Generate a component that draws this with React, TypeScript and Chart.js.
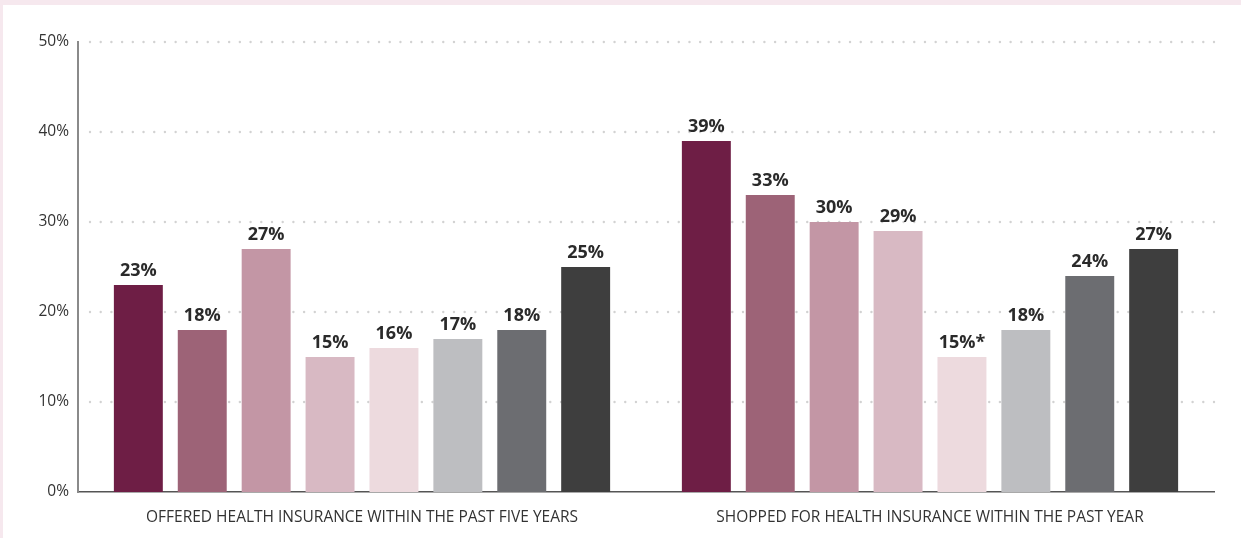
import React, { useEffect, useRef } from "react";
import { Chart, registerables } from "chart.js";

Chart.register(...registerables);

const categories = [
  "OFFERED HEALTH INSURANCE WITHIN THE PAST FIVE YEARS",
  "SHOPPED FOR HEALTH INSURANCE WITHIN THE PAST YEAR",
];
const s1 = [23, 39];
const s2 = [18, 33];
const s3 = [27, 30];
const s4 = [15, 29];
const s5 = [16, 15];
const s6 = [17, 18];
const s7 = [18, 24];
const s8 = [25, 27];
const series = [s1, s2, s3, s4, s5, s6, s7, s8];
const labelSuffixes = [
  ["", ""],
  ["", ""],
  ["", ""],
  ["", ""],
  ["", "*"],
  ["", ""],
  ["", ""],
  ["", ""],
];
const colors = [
  "#6e1e45",
  "#9d6377",
  "#c396a5",
  "#d8b9c3",
  "#eddade",
  "#bdbec1",
  "#6c6d71",
  "#3e3e3e",
];
const yTicks = [0, 10, 20, 30, 40, 50];

const FONT = "'Open Sans', 'Noto Sans', sans-serif";

export default function App() {
  const ref = useRef<HTMLCanvasElement | null>(null);
  useEffect(() => {
    if (!ref.current) return;
    const dotGrid = {
      id: "dotGrid",
      beforeDatasetsDraw(chart: any) {
        const { ctx, chartArea, scales } = chart;
        const y = scales.y;
        ctx.save();
        ctx.fillStyle = "#d2d2d2";
        const start = chartArea.left + 12;
        const end = chartArea.right;
        const n = 105;
        const step = (end - start) / n;
        for (const t of yTicks) {
          if (t === 0) continue;
          const py = y.getPixelForValue(t);
          for (let i = 0; i <= n; i++) {
            ctx.beginPath();
            ctx.arc(start + i * step, py, 1.2, 0, Math.PI * 2);
            ctx.fill();
          }
        }
        ctx.restore();
      },
    };
    const valueLabels = {
      id: "valueLabels",
      afterDatasetsDraw(chart: any) {
        const { ctx } = chart;
        ctx.save();
        ctx.font = `bold 18px ${FONT}`;
        ctx.fillStyle = "#2a2a2a";
        ctx.textAlign = "center";
        ctx.textBaseline = "bottom";
        chart.data.datasets.forEach((ds: any, di: number) => {
          const meta = chart.getDatasetMeta(di);
          meta.data.forEach((bar: any, i: number) => {
            const txt = `${ds.data[i]}%${labelSuffixes[di][i]}`;
            ctx.fillText(txt, bar.x, bar.y - 5);
          });
        });
        ctx.restore();
      },
    };
    const chart = new Chart(ref.current, {
      type: "bar",
      data: {
        labels: categories,
        datasets: series.map((d, i) => ({
          label: `s${i + 1}`,
          data: d,
          backgroundColor: colors[i],
          borderWidth: 0,
          barPercentage: 0.766,
          categoryPercentage: 0.9,
        })),
      },
      options: {
        responsive: false,
        animation: false,
        layout: { padding: { top: 42, right: 27, left: 0, bottom: 0 } },
        plugins: {
          legend: { display: false },
          tooltip: { enabled: false },
        },
        scales: {
          x: {
            grid: { display: false, drawTicks: false },
            border: { display: true, color: "#555555", width: 1.5 },
            ticks: {
              color: "#333333",
              font: { family: FONT, size: 15.5 },
              padding: 16,
              maxRotation: 0,
            },
            afterFit(scale: any) {
              scale.height = 46;
            },
          },
          y: {
            min: 0,
            max: 50,
            grid: { display: false, drawTicks: false },
            border: { display: true, color: "#8a8a8a", width: 2 },
            ticks: {
              stepSize: 10,
              color: "#333333",
              font: { family: FONT, size: 15.5 },
              padding: 9,
              callback: (v: any) => `${v}%`,
            },
            afterFit(scale: any) {
              scale.width = 78;
            },
          },
        },
      },
      plugins: [dotGrid, valueLabels],
    });
    return () => chart.destroy();
  }, []);
  return (
    <div
      style={{
        position: "fixed",
        left: 0,
        top: 0,
        width: 1241,
        height: 538,
        background: "#ffffff",
      }}
    >
      <canvas ref={ref} width={1241} height={538} style={{ display: "block" }} />
      <div
        style={{
          position: "absolute",
          left: 0,
          top: 0,
          width: 1241,
          height: 5,
          background: "#f6e8ee",
        }}
      />
      <div
        style={{
          position: "absolute",
          left: 0,
          top: 0,
          width: 3,
          height: 538,
          background: "#f6e8ee",
        }}
      />
    </div>
  );
}
